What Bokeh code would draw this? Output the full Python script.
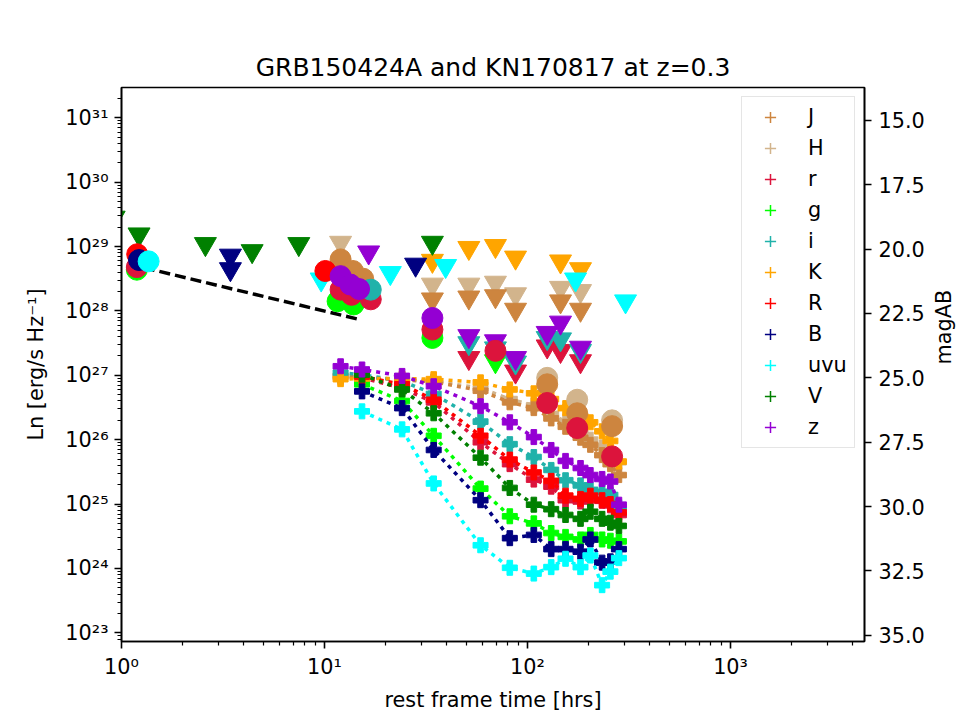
import math
from bokeh.plotting import figure
from bokeh.models import (Range1d, LinearAxis, LinearScale, FixedTicker, CustomJSTickFormatter,
                          NumeralTickFormatter, Legend, LegendItem)
from bokeh.embed import file_html
from bokeh.resources import INLINE

FONT = "DejaVu Sans"
TXT = "20.8px"

bands = ["J", "H", "r", "g", "i", "K", "R", "B", "uvu", "V", "z"]
band_colors = ["peru", "tan", "crimson", "lime", "lightseagreen", "orange",
               "red", "navy", "cyan", "green", "darkviolet"]

# KN170817 light curves moved to z=0.3: rest-frame hours and log10 Ln
kn_t = [12.0, 15.3, 24.1, 34.5, 58.7, 81.8, 107.4, 130.8, 153.9, 182.4, 204.0, 233.0, 256.0, 282.0]
kn_J = [26.99, 26.97, 26.93, 26.90, 26.76, 26.58, 26.49, 26.33, 26.20, 26.03, 25.92, 25.76, 25.62, 25.45]
kn_H = [26.97, 26.96, 26.94, 26.91, 26.80, 26.63, 26.53, 26.40, 26.28, 26.12, 26.00, 25.88, 25.76, 25.65]
kn_r = [None, 26.96, 26.80, 26.58, 25.96, 25.62, 25.38, 25.27, 25.06, 25.04, 25.08, 25.05, 24.98, 24.83]
kn_g = [None, 26.86, 26.60, 26.06, 25.24, 24.81, 24.70, 24.55, 24.49, 24.45, 24.52, 24.45, 24.43, 24.42]
kn_i = [27.04, 27.01, 26.91, 26.71, 26.28, 25.93, 25.73, 25.53, 25.37, 25.29, 25.22, 25.19, 25.14, 24.95]
kn_K = [26.94, 26.95, 26.95, 26.94, 26.89, 26.78, 26.72, 26.63, 26.49, 26.36, 26.27, 26.13, 25.98, 25.66]
kn_R = [None, 26.98, 26.86, 26.62, 26.06, 25.69, 25.49, 25.36, 25.13, 25.08, 25.13, 25.06, 25.00, 24.87]
kn_B = [None, 26.75, 26.49, 25.84, 25.06, 24.47, 24.52, 24.30, 24.30, 24.26, 24.45, 24.09, 24.11, 24.30]
kn_uvu = [None, 26.44, 26.16, 25.32, 24.36, 24.01, 23.92, 24.02, 24.15, 24.02, 24.20, 23.74, 23.95, 24.16]
kn_V = [None, 27.01, 26.78, 26.41, 25.72, 25.25, 24.99, 24.92, 24.83, 24.77, 24.88, 24.77, 24.71, 24.66]
kn_z = [27.14, 27.09, 26.99, 26.83, 26.52, 26.27, 26.04, 25.84, 25.67, 25.56, 25.45, 25.39, 25.35, 24.99]

# GRB150424A upper limits (hours, log10 Ln)
ul_J_t = [34.0, 51.4, 69.5, 87.3, 145.4, 182.4]
ul_J_L = [28.18, 28.21, 28.23, 28.02, 28.15, 28.02]
ul_H_t = [12.0, 34.0, 51.4, 69.5, 87.3, 145.4, 182.4]
ul_H_L = [29.06, 28.41, 28.41, 28.44, 28.26, 28.36, 28.31]
ul_r_t = [51.4, 87.3, 125.0, 145.4, 182.4]
ul_r_L = [27.27, 27.06, 27.45, 27.38, 27.22]
ul_g_t = [69.5]
ul_g_L = [27.22]
ul_i_t = [51.4, 69.5, 87.3, 125.0, 145.4, 182.4]
ul_i_L = [27.50, 27.42, 27.20, 27.58, 27.56, 27.38]
ul_K_t = [34.0, 51.4, 69.5, 87.3, 145.4, 182.4]
ul_K_L = [28.78, 28.98, 29.01, 28.83, 28.77, 28.65]
ul_B_t = [3.44, 3.44, 28.1]
ul_B_L = [28.86, 28.65, 28.72]
ul_uvu_t = [9.63, 21.1, 39.5, 172.4, 304.0]
ul_uvu_L = [28.49, 28.59, 28.70, 28.49, 28.15]
ul_V_t = [0.92, 1.22, 2.59, 4.40, 7.47, 34.0]
ul_V_L = [29.45, 29.19, 29.04, 28.93, 29.04, 29.06]
ul_z_t = [16.5, 51.4, 69.5, 87.3, 125.0, 145.4, 182.4]
ul_z_L = [28.91, 27.61, 27.53, 27.27, 27.66, 27.82, 27.43]

# GRB150424A detections (hours, log10 Ln)
det_J_t = [12.0, 13.8, 15.5, 125.0, 175.7, 261.0]
det_J_L = [28.80, 28.62, 28.50, 26.86, 26.41, 26.21]
det_H_t = [125.0, 175.7, 261.0]
det_H_L = [26.96, 26.62, 26.30]
det_r_t = [1.19, 12.0, 13.6, 16.9, 34.0, 69.5, 125.0, 175.7, 261.0]
det_r_L = [28.68, 28.33, 28.25, 28.18, 27.71, 27.38, 26.57, 26.18, 25.74]
det_g_t = [1.19, 11.6, 13.9, 34.0]
det_g_L = [28.64, 28.15, 28.10, 27.58]
det_i_t = [16.9]
det_i_L = [28.33]
det_R_t = [1.195, 10.1]
det_R_L = [28.88, 28.62]
det_B_t = [1.22]
det_B_L = [28.79]
det_uvu_t = [1.36]
det_uvu_L = [28.77]
det_z_t = [12.0, 13.4, 14.8, 34.0]
det_z_L = [28.54, 28.41, 28.34, 27.89]

# afterglow power-law decline
pl_t = [1.08, 14.7]
pl_L = [28.73, 27.87]

kn_curves = {"J": kn_J, "H": kn_H, "r": kn_r, "g": kn_g, "i": kn_i, "K": kn_K,
             "R": kn_R, "B": kn_B, "uvu": kn_uvu, "V": kn_V, "z": kn_z}
upper = {"J": (ul_J_t, ul_J_L), "H": (ul_H_t, ul_H_L), "r": (ul_r_t, ul_r_L),
         "g": (ul_g_t, ul_g_L), "i": (ul_i_t, ul_i_L), "K": (ul_K_t, ul_K_L),
         "B": (ul_B_t, ul_B_L), "uvu": (ul_uvu_t, ul_uvu_L), "V": (ul_V_t, ul_V_L),
         "z": (ul_z_t, ul_z_L)}
detect = {"J": (det_J_t, det_J_L), "H": (det_H_t, det_H_L), "r": (det_r_t, det_r_L),
          "g": (det_g_t, det_g_L), "i": (det_i_t, det_i_L), "R": (det_R_t, det_R_L),
          "B": (det_B_t, det_B_L), "uvu": (det_uvu_t, det_uvu_L), "z": (det_z_t, det_z_L)}
color_of = dict(zip(bands, band_colors))
kn_order = ["H", "J", "r", "g", "i", "K", "R", "B", "uvu", "V", "z"]
ul_order = ["H", "J", "r", "g", "i", "K", "R", "B", "uvu", "V", "z"]
det_order = ["H", "J", "g", "r", "i", "R", "B", "uvu", "z"]


def lum(vals):
    return [10 ** v for v in vals]


p = figure(frame_width=743, frame_height=554, x_axis_type="log", y_axis_type="log",
           x_range=Range1d(1.0, 4570.0), y_range=Range1d(10 ** 22.865, 10 ** 31.47),
           output_backend="svg", toolbar_location=None,
           min_border_left=121, min_border_right=96, min_border_top=87, min_border_bottom=79)
p.grid.visible = False
p.outline_line_color = "black"
p.outline_line_width = 1.6
p.background_fill_color = "white"
p.border_fill_color = "white"

p.title.text = "GRB150424A and KN170817 at z=0.3"
p.title.text_font = FONT
p.title.text_font_size = "25px"
p.title.text_font_style = "normal"
p.title.text_color = "black"
p.title.align = "center"
p.title.standoff = 12

sup_js = """
const sup = {"0": "\\u2070", "1": "\\u00b9", "2": "\\u00b2", "3": "\\u00b3", "4": "\\u2074",
             "5": "\\u2075", "6": "\\u2076", "7": "\\u2077", "8": "\\u2078", "9": "\\u2079",
             "-": "\\u207b"};
const e = Math.round(Math.log10(tick));
return "10" + String(e).split("").map(c => sup[c]).join("");
"""

x_major = [1, 10, 100, 1000]
x_minor = [m * 10 ** k for k in range(0, 4) for m in range(2, 10)]
y_major = [10.0 ** k for k in range(23, 32)]
y_minor = [m * 10.0 ** k for k in range(22, 32) for m in range(2, 10)]
mag_ticks = [15.0, 17.5, 20.0, 22.5, 25.0, 27.5, 30.0, 32.5, 35.0]


def style_axis(ax):
    ax.axis_line_color = "black"
    ax.axis_line_width = 1.6
    ax.major_tick_line_color = "black"
    ax.major_tick_line_width = 1.6
    ax.minor_tick_line_color = "black"
    ax.minor_tick_line_width = 1.2
    ax.major_tick_out = 7
    ax.major_tick_in = 0
    ax.minor_tick_out = 4
    ax.minor_tick_in = 0
    ax.major_label_text_font = FONT
    ax.major_label_text_font_size = TXT
    ax.major_label_text_color = "black"
    ax.axis_label_text_font = FONT
    ax.axis_label_text_font_size = TXT
    ax.axis_label_text_font_style = "normal"
    ax.axis_label_text_color = "black"
    ax.major_label_standoff = 6


xa = p.xaxis[0]
xa.ticker = FixedTicker(ticks=x_major, minor_ticks=x_minor)
xa.formatter = CustomJSTickFormatter(code=sup_js)
xa.axis_label = "rest frame time [hrs]"
style_axis(xa)
xa.axis_label_standoff = 6

ya = p.yaxis[0]
ya.ticker = FixedTicker(ticks=y_major, minor_ticks=y_minor)
ya.formatter = CustomJSTickFormatter(code=sup_js)
ya.axis_label = "Ln [erg/s Hz\u207b\u00b9]"
style_axis(ya)
ya.axis_label_standoff = 14

# AB magnitude scale on the right, linear and increasing downward
p.extra_y_ranges = {"mag": Range1d(start=35.24, end=13.725)}
p.extra_y_scales = {"mag": LinearScale()}
ra = LinearAxis(y_range_name="mag", axis_label="magAB",
                ticker=FixedTicker(ticks=mag_ticks),
                formatter=NumeralTickFormatter(format="0.0"))
style_axis(ra)
ra.minor_tick_line_color = None
ra.major_label_standoff = 7
ra.axis_label_standoff = 16
if "axis_label_orientation" in ra.properties():
    ra.axis_label_orientation = math.pi / 2
p.add_layout(ra, "right")

# kilonova model curves: dotted lines with filled plus markers
for b in kn_order:
    c = color_of[b]
    pts = [(t, v) for t, v in zip(kn_t, kn_curves[b]) if v is not None]
    xs = [t for t, _ in pts]
    ys = lum([v for _, v in pts])
    p.line(xs, ys, line_color=c, line_width=3.5, line_dash="4 5")
    p.scatter(xs, ys, marker="plus", size=15, fill_color=c, line_color=c)

# afterglow decline
p.line(pl_t, lum(pl_L), line_color="black", line_width=3.5, line_dash="11 5")

# GRB upper limits and detections
for b in ul_order:
    c = color_of[b]
    if b in upper:
        t, v = upper[b]
        p.scatter(t, lum(v), marker="inverted_triangle", size=22, fill_color=c, line_color=c)
for b in det_order:
    c = color_of[b]
    t, v = detect[b]
    p.scatter(t, lum(v), marker="circle", size=21, fill_color=c, line_color=c)

# legend entries drawn with thin crosses
items = []
for b in bands:
    c = color_of[b]
    r = p.scatter([float("nan")], [float("nan")], marker="cross", size=15,
                  line_color=c, line_width=1.5)
    items.append(LegendItem(label=b, renderers=[r]))

legend = Legend(items=items, location=(620, 193), margin=0, padding=6,
                spacing=3, glyph_width=44, glyph_height=28, label_height=28,
                label_width=40, label_standoff=16,
                label_text_font=FONT, label_text_font_size=TXT, label_text_color="black",
                border_line_color="#cccccc", border_line_width=1.2,
                background_fill_color="white", background_fill_alpha=0.8)
p.add_layout(legend)

with open("out.html", "w", encoding="utf-8") as f:
    f.write(file_html(p, INLINE))
